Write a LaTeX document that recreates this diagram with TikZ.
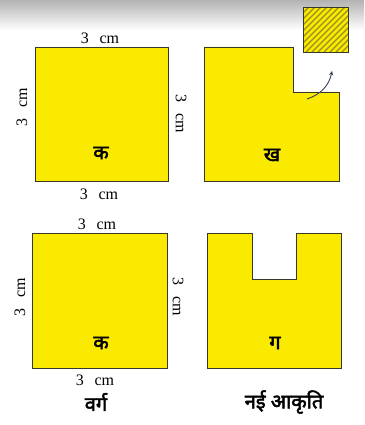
\documentclass[tikz,border=0pt]{standalone}
\usepackage{fontspec}
\setmainfont{Liberation Serif}
\newfontfamily\hindi[Script=Devanagari, FakeBold=2.5]{Noto Sans}
\usetikzlibrary{arrows, shapes}
\definecolor{paperyellow}{RGB}{250,234,0}
\definecolor{hatchline}{RGB}{150,140,40}
\definecolor{edgegray}{RGB}{55,55,45}
\definecolor{arrowgray}{RGB}{55,65,85}

\begin{document}
\begin{tikzpicture}[x=1pt, y=-1pt,
  paper/.style={draw=edgegray, fill=paperyellow, line width=0.9pt},
  dimlabel/.style={font=\fontsize{16}{16}\selectfont, inner sep=0pt},
  hindilabel/.style={font=\hindi\fontsize{20}{20}\selectfont, inner sep=0pt}]
\useasboundingbox (0,0) rectangle (364,425);
\shade[top color=black!30, bottom color=white] (0,0) rectangle (364,30);

% top row: square and cut figure
\draw[paper] (35,47) rectangle (168,181);
\draw[paper] (204,47) -- (293,47) -- (293,92) -- (339,92) -- (339,181) -- (204,181) -- cycle;
\begin{scope}
\clip (303,7) rectangle (348,52);
\fill[paperyellow] (303,7) rectangle (348,52);
\foreach \s in {0,6,...,96}
  \draw[hatchline, line width=1.1pt] (303+\s-45,52) -- (303+\s,7);
\end{scope}
\draw[edgegray, line width=0.9pt] (303,7) rectangle (348,52);

\node[dimlabel] (topA) at (100,38) {3\ \ \,cm};
\node[dimlabel, rotate=90] (leftA) at (22,107) {3\ \ \,cm};
\node[dimlabel, rotate=-90] (rightA) at (181,114) {3\ \ \,cm};
\node[dimlabel] (bottomA) at (99,194) {3\ \ \,cm};
\node[hindilabel] (ka) at (101,153) {क};
\node[hindilabel] (kha) at (272,155) {ख};

\coordinate (cutfrom) at (307,99);
\coordinate (cutto) at (332,71);
\draw[arrowgray, line width=0.9pt, ->, >=stealth] (cutfrom) to[bend right=30] (cutto);

% bottom row: square and new figure
\draw[paper] (32,233) rectangle (167,368);
\draw[paper] (207,233) -- (252,233) -- (252,279) -- (296,279) -- (296,233) -- (341,233) -- (341,368) -- (207,368) -- cycle;

\node[dimlabel] (topB) at (97,224) {3\ \ \,cm};
\node[dimlabel, rotate=90] (leftB) at (20,297) {3\ \ \,cm};
\node[dimlabel, rotate=-90] (rightB) at (178,297) {3\ \ \,cm};
\node[dimlabel] (bottomB) at (95,380) {3\ \ \,cm};
\node[hindilabel] (kaB) at (101,343) {क};
\node[hindilabel] (ga) at (275,343) {ग};
\node[hindilabel] (varg) at (96,402) {वर्ग};
\node[hindilabel] (nayi) at (284,402) {नई आकृति};
\end{tikzpicture}
\end{document}
